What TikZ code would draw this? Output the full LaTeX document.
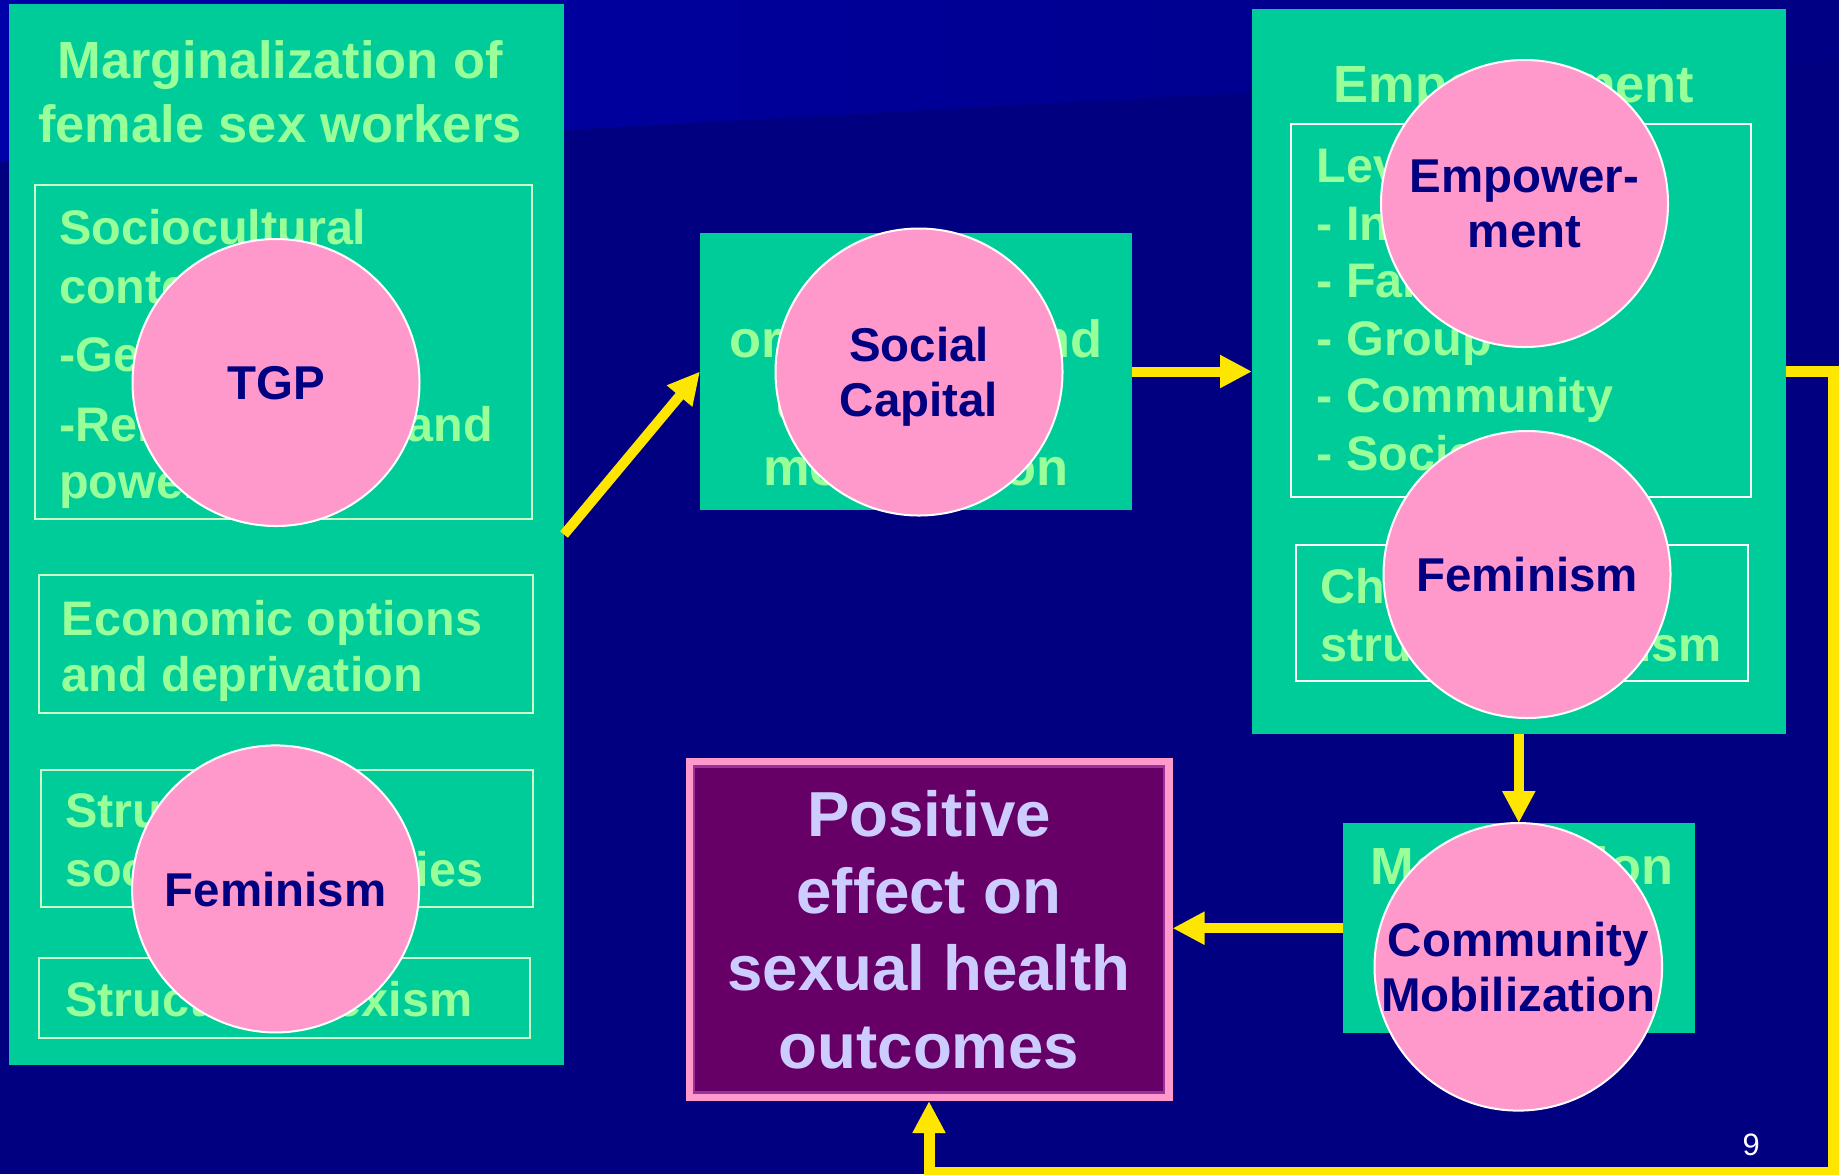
\documentclass[tikz,border=0pt]{standalone}
\usepackage{fontspec}
\setmainfont{Liberation Sans}
\usetikzlibrary{positioning}
\usetikzlibrary{arrows.meta}
\definecolor{slidebg}{HTML}{000080}
\definecolor{bandblue}{HTML}{0000A8}
\definecolor{bandend}{HTML}{000084}
\definecolor{boxgreen}{HTML}{00CC99}
\definecolor{textgreen}{HTML}{99FF99}
\definecolor{framegreen}{HTML}{CCFFCC}
\definecolor{bubblepink}{HTML}{FF99CC}
\definecolor{outfill}{HTML}{660066}
\definecolor{outrim}{HTML}{993399}
\definecolor{lavender}{HTML}{CCCCFF}
\definecolor{arrowyellow}{HTML}{FFE600}
\tikzset{
    greenbox/.style = {rectangle, fill=boxgreen, inner sep=0pt, outer sep=0pt},
    framebox/.style = {rectangle, draw=framegreen, line width=0.2mm, inner sep=0pt},
    titletxt/.style = {anchor=base, inner sep=0pt, text=textgreen, font=\bfseries\fontsize{14.9}{17}\selectfont},
    bodytxt/.style = {anchor=base west, inner sep=0pt, text=textgreen, font=\bfseries\fontsize{13.8}{16}\selectfont},
    bubble/.style = {circle, draw=white, line width=0.2mm, fill=bubblepink, minimum size=28.7mm, inner sep=0pt, text depth=0pt, align=center, text=slidebg, font=\bfseries\fontsize{13.5}{15.8}\selectfont},
    outcome/.style = {rectangle, draw=bubblepink, line width=0.8mm, fill=outfill, inner sep=0pt, align=center, text=lavender, font=\bfseries\fontsize{18.1}{22}\selectfont},
    edgey/.style = {-{Triangle[length=3.2mm,width=3.1mm]}, line width=1mm, arrowyellow},
    edgeloop/.style = {-{Triangle[length=3.2mm,width=3.1mm]}, line width=1.1mm, arrowyellow}
}
\begin{document}
\begin{tikzpicture}
%
\useasboundingbox (0,0) rectangle (18.39,-11.74);
\fill[slidebg] (0,0) rectangle (18.39,-11.74);
\shade[left color=bandblue, right color=bandend] (0,0) -- (18.39,0) -- (18.39,-0.60) -- (0,-1.61) -- cycle;
%
\node[greenbox, minimum width=5.55cm, minimum height=10.61cm] at (2.865,-5.345) (lbox) {};
\node[greenbox, minimum width=4.32cm, minimum height=2.77cm] at (9.16,-3.715) (mid) {};
\node[greenbox, minimum width=5.335cm, minimum height=7.253cm] at (15.188,-3.717) (rbox) {};
\node[greenbox, minimum width=3.52cm, minimum height=2.103cm] at (15.19,-9.282) (mob) {};
%
\node[framebox, minimum width=4.97cm, minimum height=3.34cm] at (2.835,-3.52) (ctx) {};
\node[framebox, minimum width=4.94cm, minimum height=1.38cm] at (2.856,-6.44) (econ) {};
\node[framebox, minimum width=4.915cm, minimum height=1.37cm] at (2.868,-8.38) (ineq) {};
\node[framebox, minimum width=4.913cm, minimum height=0.80cm] at (2.844,-9.98) (sexism) {};
\node[framebox, draw=white, minimum width=4.60cm, minimum height=3.73cm] at (15.21,-3.105) (levels) {};
\node[framebox, draw=white, minimum width=4.516cm, minimum height=1.36cm] at (15.218,-6.134) (chall) {};
%
\node[titletxt] at (2.80,-0.785) (tl1) {Marginalization of};
\node[titletxt] at (2.80,-1.424) (tl2) {female sex workers};
\node[titletxt] at (15.14,-1.026) (tr) {Empowerment};
\node[titletxt] at (15.217,-8.843) (tm) {Mobilization};
\foreach \y/\txt [count=\i] in {3.577/organizing and, 4.217/community, 4.857/mobilization}
    \node[titletxt] at (9.16,-\y) (tc\i) {\txt};
%
\foreach \y/\txt [count=\i] in {2.44/Sociocultural, 3.033/context, 3.717/-Gender norms, 4.417/-Relationships and, 4.98/power}
    \node[bodytxt] at (0.585,-\y) (ctx\i) {\txt};
\node[bodytxt] at (0.61,-6.356) (econ1) {Economic options};
\node[bodytxt] at (0.61,-6.913) (econ2) {and deprivation};
\node[bodytxt] at (0.645,-8.274) (ineq1) {Structural};
\node[bodytxt] at (0.645,-8.863) (ineq2) {social inequalities};
\node[bodytxt] at (0.645,-10.164) (sex1) {Structural sexism};
\foreach \txt [count=\i from 0] in {Levels:, - Individual, - Family, - Group, - Community, - Societal}
    \node[bodytxt] at (13.16,-1.827-0.575*\i) (lev\i) {\txt};
\node[bodytxt] at (13.195,-6.037) (ch1) {Challenging};
\node[bodytxt] at (13.195,-6.614) (ch2) {structural sexism};
%
\node[bubble] at (2.76,-3.825) (tgp) {TGP};
\node[bubble] at (2.756,-8.889) (feml) {Feminism};
\node[bubble] at (9.19,-3.72) (soc) {Social\\Capital};
\node[bubble] at (15.245,-2.035) (emp) {Empower-\\ment};
\node[bubble] at (15.27,-5.745) (femr) {Feminism};
\node[bubble] at (15.183,-9.668) (cmob) {Community\\Mobilization};
%
\node[outcome, minimum width=4.79cm, minimum height=3.353cm] at (9.29,-9.294) (outc) {Positive\\effect on\\sexual health\\outcomes};
\draw[outrim, line width=0.25mm] ([shift={(0.087,-0.087)}]outc.north west) rectangle ([shift={(-0.087,0.087)}]outc.south east);
%
\draw[edgey] (lbox.east) -- (mid.west);
\draw[edgey] (mid.east) -- (mid.east -| rbox.west);
\draw[edgey] (rbox.south) -- (rbox.south |- mob.north);
\draw[edgey] (mob.west) -- (mob.west -| outc.east);
\coordinate (loop) at (18.335,-11.72);
\draw[edgeloop] (rbox.east) -| (loop) -| (outc.south);
%
\node[anchor=base, inner sep=0pt, text=white, font=\fontsize{8.8}{10}\selectfont] at (17.513,-11.557) (pnum) {9};

\end{tikzpicture}
\end{document}
